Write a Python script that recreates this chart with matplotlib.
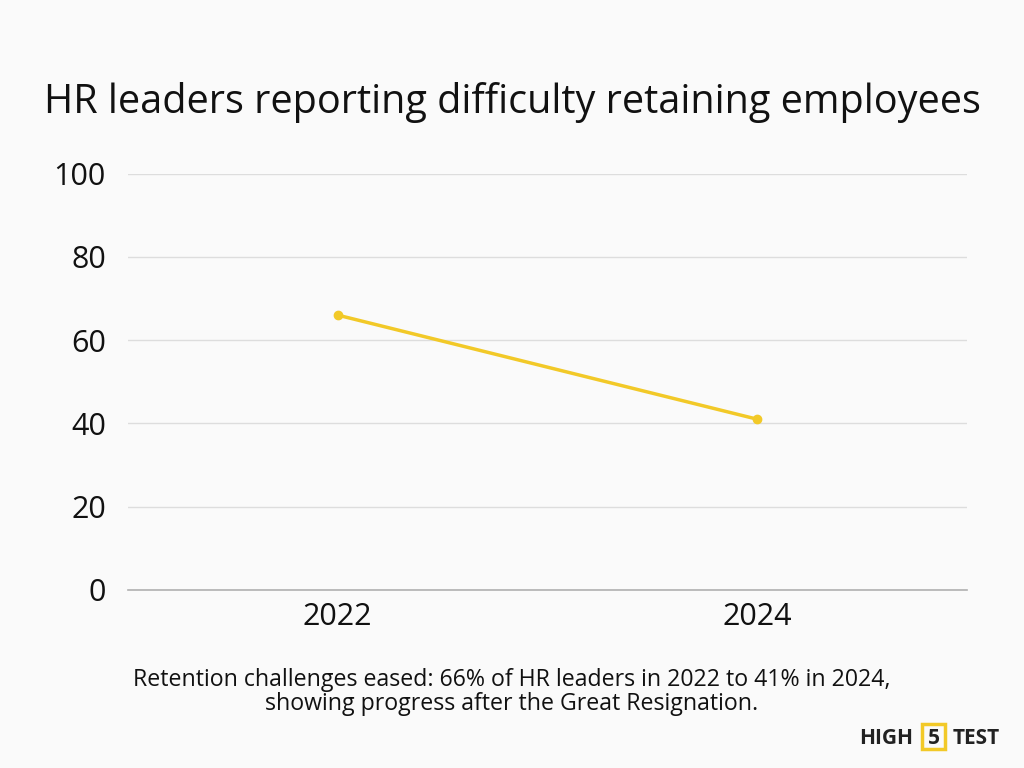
import matplotlib.pyplot as plt
from matplotlib.patches import Rectangle

years = ["2022", "2024"]
share = [66, 41]

bg = "#fafafa"
line_color = "#f2c928"

plt.rcParams["font.family"] = ["Open Sans", "DejaVu Sans"]

fig = plt.figure(figsize=(10.24, 7.68), dpi=100, facecolor=bg)
ax = fig.add_axes([0.125, 0.232, 0.819, 0.542], facecolor=bg)

x = list(range(len(years)))
ax.plot(x, share, color=line_color, lw=2.5, marker="o", ms=6, zorder=3)

ax.set_xlim(-0.5, 1.5)
ax.set_ylim(0, 100)
ax.set_yticks([0, 20, 40, 60, 80, 100])
ax.set_xticks(x)
ax.set_xticklabels(years)
ax.grid(axis="y", color="#dddddd", lw=1)
ax.set_axisbelow(True)
for s in ["top", "right", "left"]:
    ax.spines[s].set_visible(False)
ax.spines["bottom"].set_color("#b0b0b0")
ax.spines["bottom"].set_linewidth(1.2)
ax.tick_params(axis="both", length=0, labelsize=22, colors="#111111")
ax.tick_params(axis="y", pad=16)
ax.tick_params(axis="x", pad=9)

fig.text(0.5, 0.866, "HR leaders reporting difficulty retaining employees",
         ha="center", va="center", fontsize=28.5, color="#111111")
fig.text(0.5, 0.099, "Retention challenges eased: 66% of HR leaders in 2022 to 41% in 2024,\nshowing progress after the Great Resignation.",
         ha="center", va="center", fontsize=16.7, color="#111111", linespacing=1.05)

# logo
fig.text(0.8916, 0.039, "HIGH", ha="right", va="center", fontsize=15, fontweight="bold", color="#222222")
fig.text(0.9116, 0.039, "5", ha="center", va="center", fontsize=15, fontweight="bold", color="#222222")
fig.patches.append(Rectangle((0.9004, 0.0247), 0.0225, 0.0326, transform=fig.transFigure,
                             fill=False, ec=line_color, lw=2.5))
fig.text(0.9307, 0.039, "TEST", ha="left", va="center", fontsize=15, fontweight="bold", color="#222222")

fig.savefig("out.png", dpi=100, facecolor=bg)
